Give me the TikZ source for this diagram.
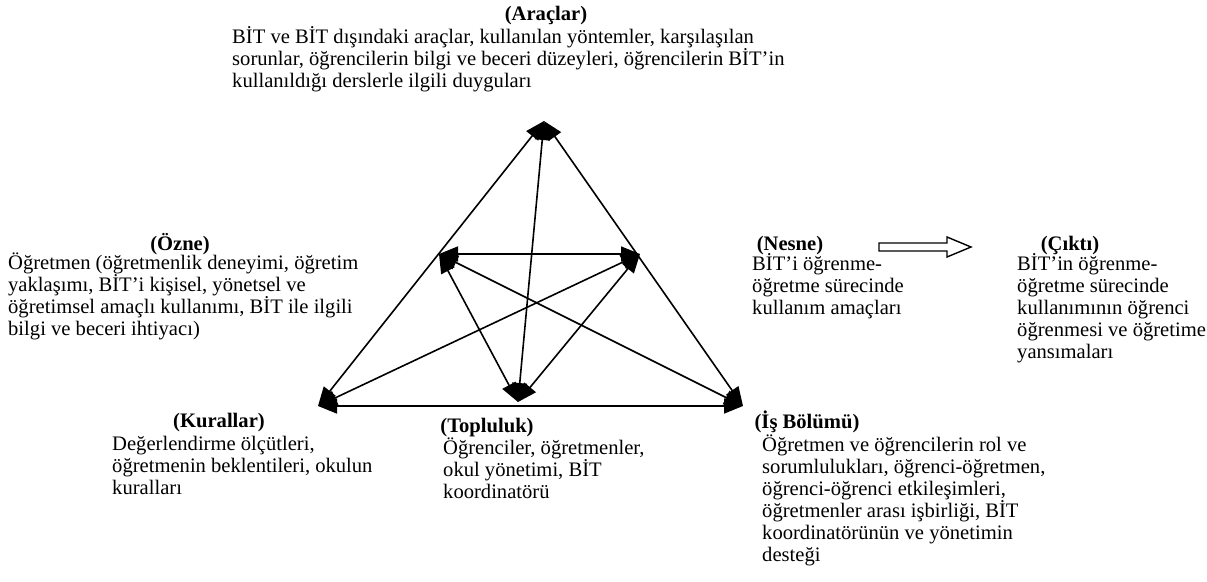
\documentclass[tikz,border=0pt]{standalone}
\usepackage{fontspec}
\setmainfont{Liberation Serif}
\usetikzlibrary{arrows.meta}
\newcommand{\yazi}{\fontsize{20.6}{22}\selectfont}
\tikzstyle{baslik}=[anchor=base, inner sep=0pt, font=\yazi\bfseries]
\tikzstyle{metin}=[anchor=base west, inner sep=0pt, align=left, font=\yazi]
\tikzstyle{ok}=[line width=1.6pt, {Triangle[length=19pt,width=15pt]}-{Triangle[length=19pt,width=15pt]}]

\begin{document}
\begin{tikzpicture}[x=1pt, y=-1pt]
			\useasboundingbox (0,0) rectangle (1207,581);
			% ucgenin koseleri
			\coordinate (araclar) at (544,121);
			\coordinate (ozne) at (439,254);
			\coordinate (nesne) at (640,254);
			\coordinate (kurallar) at (318,406);
			\coordinate (topluluk) at (518,402);
			\coordinate (isbolumu) at (743,406);
			\foreach \a/\b in {araclar/kurallar, araclar/isbolumu, kurallar/isbolumu, araclar/topluluk, ozne/nesne, ozne/isbolumu, nesne/kurallar, ozne/topluluk, nesne/topluluk}
				\draw[ok] (\a) -- (\b);
			% basliklar
			\node[baslik] (t-araclar) at (546,20) {(Araçlar)};
			\node[baslik] (t-ozne) at (180,250) {(Özne)};
			\node[baslik] (t-nesne) at (790,250) {(Nesne)};
			\node[baslik] (t-cikti) at (1070,250) {(Çıktı)};
			\node[baslik] (t-kurallar) at (219,427) {(Kurallar)};
			\node[baslik] (t-topluluk) at (487,432) {(Topluluk)};
			\node[baslik] (t-isbolumu) at (807,428) {(İş Bölümü)};
			% metinler (base = son satir)
			\node[metin] (m-araclar) at (232,87) {BİT ve BİT dışındaki araçlar, kullanılan yöntemler, karşılaşılan\\sorunlar, öğrencilerin bilgi ve beceri düzeyleri, öğrencilerin BİT’in\\kullanıldığı derslerle ilgili duyguları};
			\node[metin] (m-ozne) at (8,335) {Öğretmen (öğretmenlik deneyimi, öğretim\\yaklaşımı, BİT’i kişisel, yönetsel ve\\öğretimsel amaçlı kullanımı, BİT ile ilgili\\bilgi ve beceri ihtiyacı)};
			\node[metin] (m-nesne) at (752,314) {BİT’i öğrenme-\\öğretme sürecinde\\kullanım amaçları};
			\node[metin] (m-cikti) at (1017,358) {BİT’in öğrenme-\\öğretme sürecinde\\kullanımının öğrenci\\öğrenmesi ve öğretime\\yansımaları};
			\node[metin] (m-kurallar) at (112,494) {Değerlendirme ölçütleri,\\öğretmenin beklentileri, okulun\\kuralları};
			\node[metin] (m-topluluk) at (443,498) {Öğrenciler, öğretmenler,\\okul yönetimi, BİT\\koordinatörü};
			\node[metin] (m-isbolumu) at (762,561) {Öğretmen ve öğrencilerin rol ve\\sorumlulukları, öğrenci-öğretmen,\\öğrenci-öğrenci etkileşimleri,\\öğretmenler arası işbirliği, BİT\\koordinatörünün ve yönetimin\\desteği};
			% cikti oku
			\coordinate (ok-bas) at (879,247);
			\draw[line width=1.4pt] (ok-bas) ++(0,-4) -- ++(68,0) -- ++(0,-6) -- ++(24,10) -- ++(-24,10) -- ++(0,-6) -- ++(-68,0) -- cycle;
		\end{tikzpicture}
\end{document}
